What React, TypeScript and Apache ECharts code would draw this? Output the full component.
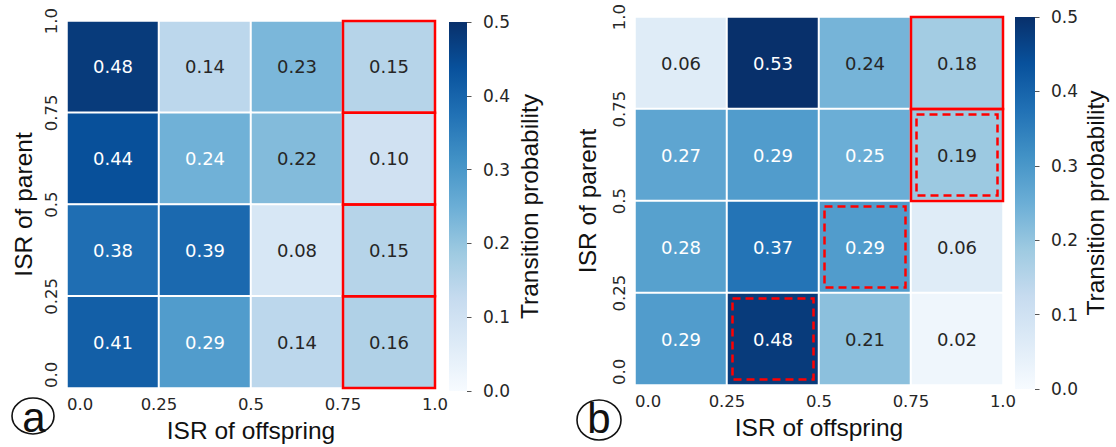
import React, { useEffect, useRef } from "react";
import * as echarts from "echarts";

// ---------- data ----------
const isrBins = ["0.0-0.25", "0.25-0.5", "0.5-0.75", "0.75-1.0"];
const isrTicks = ["0.0", "0.25", "0.5", "0.75", "1.0"];
const cbTicks = ["0.0", "0.1", "0.2", "0.3", "0.4", "0.5"];
const colorMax = 0.5;

// rows listed top (parent 0.75-1.0) to bottom (parent 0.0-0.25), columns offspring 0.0 -> 1.0
const panelARows = [
  [0.48, 0.14, 0.23, 0.15],
  [0.44, 0.244, 0.22, 0.1],
  [0.38, 0.39, 0.08, 0.15],
  [0.41, 0.29, 0.14, 0.16],
];
const panelBRows = [
  [0.06, 0.53, 0.236, 0.18],
  [0.27, 0.29, 0.25, 0.19],
  [0.28, 0.37, 0.29, 0.06],
  [0.29, 0.48, 0.21, 0.02],
];

// highlighted cells: [offspring bin, parent bin (0 = bottom), dashed?]
const panelABoxes = [
  [3, 0, 0],
  [3, 1, 0],
  [3, 2, 0],
  [3, 3, 0],
];
const panelBBoxes = [
  [3, 3, 0],
  [3, 2, 0],
  [3, 2, 1],
  [2, 1, 1],
  [1, 0, 1],
];

const blues = [
  "#f7fbff",
  "#deebf7",
  "#c6dbef",
  "#9ecae1",
  "#6baed6",
  "#4292c6",
  "#2171b5",
  "#08519c",
  "#08306b",
];

const TICK_FONT = "DejaVu Sans";
const TITLE_FONT = "Liberation Sans";

function toHeat(rows: number[][]) {
  const out: any[] = [];
  rows.forEach((row, r) => {
    row.forEach((v, c) => {
      out.push({
        value: [c, rows.length - 1 - r, v],
        label: { color: v >= 0.24 ? "#ffffff" : "#262626" },
      });
    });
  });
  return out;
}

export default function App() {
  const ref = useRef<HTMLDivElement>(null);

  useEffect(() => {
    if (!ref.current) return;
    const chart = echarts.init(ref.current, null, { renderer: "svg" });

    const panels = [
      { left: 67, top: 21, width: 368, height: 367, yGap: 31, xGap: 29 },
      { left: 635, top: 17, width: 368, height: 368, yGap: 35, xGap: 29 },
    ];
    const cbars = [
      { left: 449, top: 22, width: 18, height: 369, gap: 50 },
      { left: 1015, top: 17, width: 20, height: 372, gap: 48 },
    ];

    const grids: any[] = [];
    const xAxes: any[] = [];
    const yAxes: any[] = [];

    panels.forEach((p, i) => {
      grids.push({ left: p.left, top: p.top, width: p.width, height: p.height, outerBoundsMode: "none" });
      const g = i;
      xAxes.push({ type: "category", gridIndex: g, data: isrBins, show: false });
      xAxes.push({
        type: "value",
        gridIndex: g,
        min: 0,
        max: 1,
        interval: 0.25,
        position: "bottom",
        axisLine: { show: false },
        axisTick: { show: false },
        splitLine: { show: false },
        axisLabel: {
          formatter: (v: number) => isrTicks[Math.round(v / 0.25)],
          fontFamily: TICK_FONT,
          fontSize: 16.5,
          color: "#262626",
          margin: 8,
          alignMinLabel: "left",
        },
        name: "ISR of offspring",
        nameLocation: "middle",
        nameGap: p.xGap,
        nameTextStyle: { fontFamily: TITLE_FONT, fontSize: 24.5, color: "#111" },
      });
      yAxes.push({ type: "category", gridIndex: g, data: isrBins, show: false });
      yAxes.push({
        type: "value",
        gridIndex: g,
        min: 0,
        max: 1,
        interval: 0.25,
        position: "left",
        axisLine: { show: false },
        axisTick: { show: false },
        splitLine: { show: false },
        axisLabel: {
          formatter: (v: number) => isrTicks[Math.round(v / 0.25)],
          fontFamily: TICK_FONT,
          fontSize: 16.5,
          color: "#262626",
          rotate: 90,
          margin: 7,
          alignMinLabel: "left",
        },
        name: "ISR of parent",
        nameLocation: "middle",
        nameGap: p.yGap,
        nameRotate: 90,
        nameTextStyle: { fontFamily: TITLE_FONT, fontSize: 24.5, color: "#111" },
      });
    });

    cbars.forEach((c, i) => {
      grids.push({ left: c.left, top: c.top, width: c.width, height: c.height, outerBoundsMode: "none" });
      const g = 2 + i;
      xAxes.push({ type: "category", gridIndex: g, data: ["cb"], show: false });
      yAxes.push({
        type: "value",
        gridIndex: g,
        min: 0,
        max: colorMax,
        interval: 0.1,
        position: "right",
        axisLine: { show: false },
        axisTick: { show: true, length: 4.5, lineStyle: { color: "#555", width: 1 } },
        splitLine: { show: false },
        axisLabel: {
          formatter: (v: number) => cbTicks[Math.round(v / 0.1)],
          fontFamily: TICK_FONT,
          fontSize: 17,
          color: "#262626",
          margin: 16,
        },
        name: "Transition probability",
        nameLocation: "middle",
        nameGap: c.gap,
        nameRotate: 90,
        nameTextStyle: { fontFamily: TITLE_FONT, fontSize: 24.5, color: "#111" },
      });
    });

    const heatSeries = (rows: number[][], gi: number) => ({
      type: "heatmap",
      xAxisIndex: gi * 2,
      yAxisIndex: gi * 2,
      data: toHeat(rows),
      label: {
        show: true,
        fontFamily: TICK_FONT,
        fontSize: 18,
        formatter: (p: any) => p.value[2].toFixed(2),
      },
      itemStyle: { borderColor: "#ffffff", borderWidth: 2 },
      emphasis: { disabled: true },
    });

    const boxSeries = (boxes: number[][], gi: number) => ({
      type: "custom",
      xAxisIndex: gi * 2,
      yAxisIndex: gi * 2,
      clip: false,
      silent: true,
      z: 5,
      encode: { x: 0, y: 1 },
      data: boxes,
      renderItem: (params: any, api: any) => {
        const c = api.coord([api.value(0), api.value(1)]);
        const s = api.size([1, 1]);
        const dashed = api.value(2) === 1;
        const inset = dashed ? 5.5 : 0;
        return {
          type: "rect",
          shape: {
            x: c[0] - s[0] / 2 + inset,
            y: c[1] - s[1] / 2 + inset,
            width: s[0] - 2 * inset,
            height: s[1] - 2 * inset,
          },
          style: {
            fill: "none",
            stroke: "#ff0000",
            lineWidth: 2.5,
            lineDash: dashed ? [8, 5] : null,
          },
        };
      },
    });

    const gradient = () =>
      new echarts.graphic.LinearGradient(
        0,
        1,
        0,
        0,
        blues.map((color, k) => ({ offset: k / (blues.length - 1), color }))
      );

    const cbSeries = (i: number) => ({
      type: "bar",
      xAxisIndex: 4 + i,
      yAxisIndex: 4 + i,
      data: [colorMax],
      barWidth: "100%",
      silent: true,
      itemStyle: { color: gradient() },
    });

    const option: any = {
      animation: false,
      backgroundColor: "#ffffff",
      grid: grids,
      xAxis: xAxes,
      yAxis: yAxes,
      visualMap: [
        { type: "continuous", min: 0, max: colorMax, seriesIndex: 0, show: false, inRange: { color: blues } },
        { type: "continuous", min: 0, max: colorMax, seriesIndex: 1, show: false, inRange: { color: blues } },
      ],
      series: [
        heatSeries(panelARows, 0),
        heatSeries(panelBRows, 1),
        boxSeries(panelABoxes, 0),
        boxSeries(panelBBoxes, 1),
        cbSeries(0),
        cbSeries(1),
      ],
      graphic: [
        { type: "ellipse", shape: { cx: 33, cy: 416, rx: 21, ry: 18 }, style: { fill: "none", stroke: "#111", lineWidth: 1.6 } },
        { type: "text", x: 34, y: 417, style: { text: "a", font: `42px '${TITLE_FONT}'`, fill: "#111", textAlign: "center", textVerticalAlign: "middle" } },
        { type: "ellipse", shape: { cx: 599, cy: 420, rx: 22, ry: 20 }, style: { fill: "none", stroke: "#111", lineWidth: 1.6 } },
        { type: "text", x: 599, y: 418, style: { text: "b", font: `42px '${TITLE_FONT}'`, fill: "#111", textAlign: "center", textVerticalAlign: "middle" } },
      ],
    };

    chart.setOption(option);
    return () => chart.dispose();
  }, []);

  return (
    <div
      ref={ref}
      style={{ position: "absolute", left: 0, top: 0, width: 1116, height: 447, background: "#fff" }}
    />
  );
}
